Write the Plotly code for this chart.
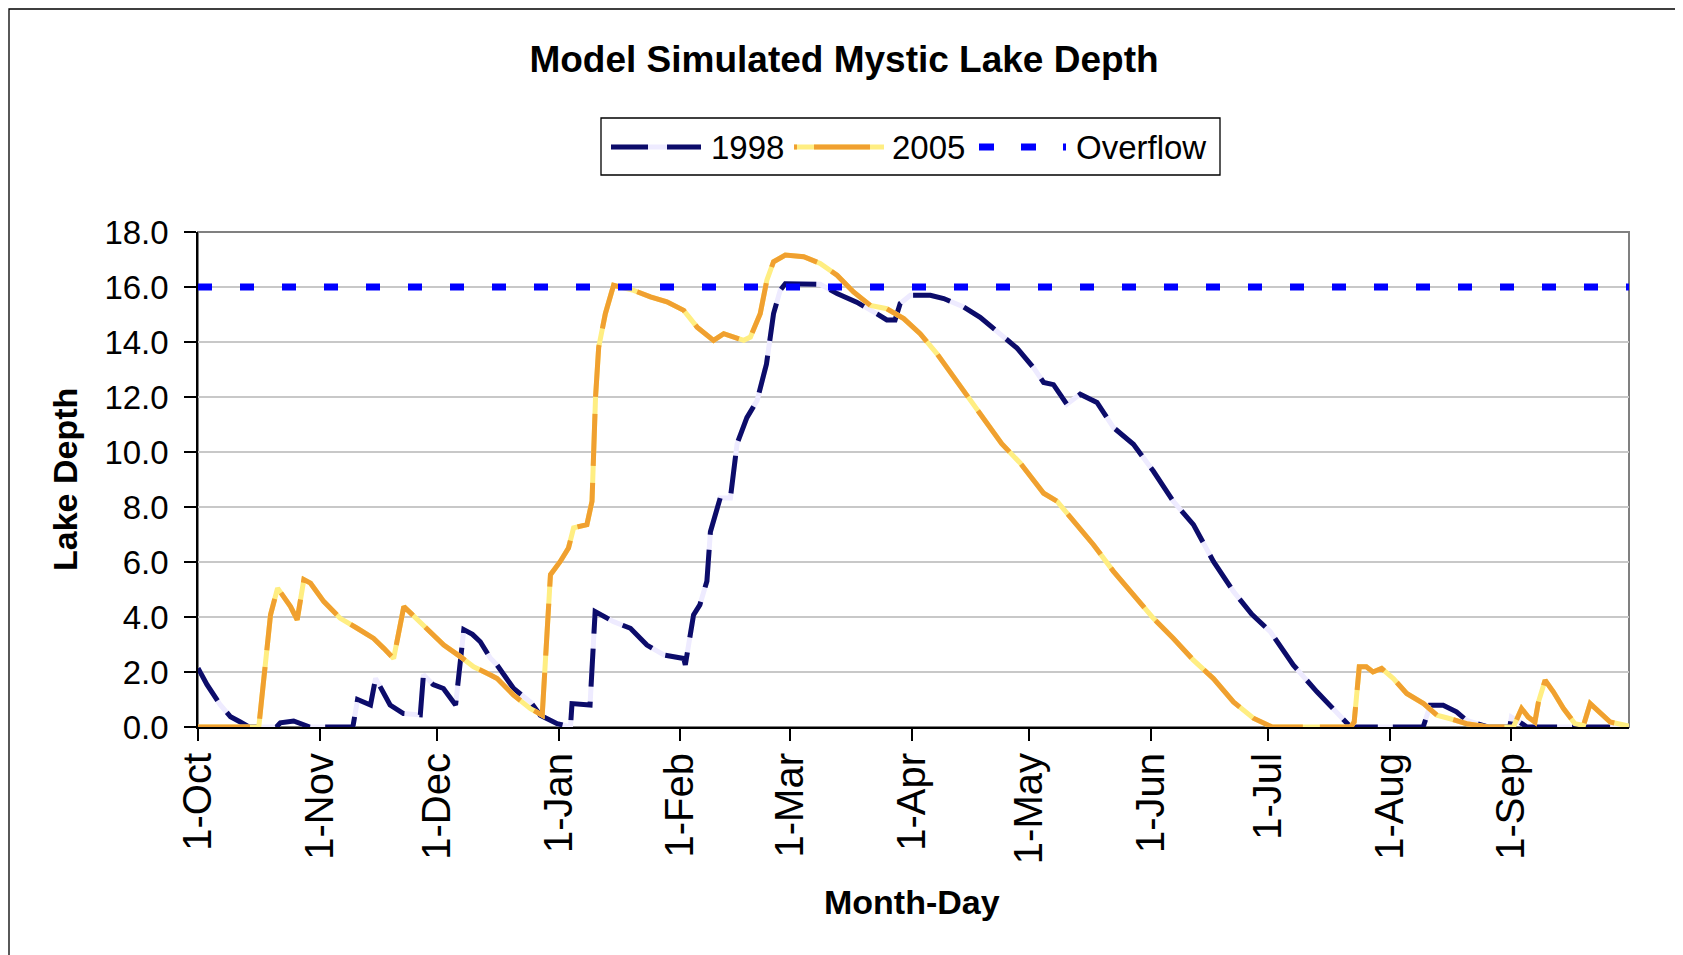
import plotly.graph_objects as go

# ---------------- data ----------------
month_start_days = [0, 31, 61, 92, 123, 151, 182, 212, 243, 273, 304, 335]
month_labels = ["1-Oct", "1-Nov", "1-Dec", "1-Jan", "1-Feb", "1-Mar",
                "1-Apr", "1-May", "1-Jun", "1-Jul", "1-Aug", "1-Sep"]
y_ticks = [0, 2, 4, 6, 8, 10, 12, 14, 16, 18]

# days since 1-Oct
days_1998 = [0, 2.3, 5.7, 8.3, 10.8, 13, 20, 21, 24.4, 27.6, 28.5, 39.5, 40.7, 44, 45.3,
             49, 52.4, 56.7, 57.5, 60, 62.6, 65.7, 67.8, 70, 72, 74.6, 76.3, 80.5, 84.8,
             87.3, 91.6, 95, 95.4, 100, 101.3, 106, 110.3, 114.5, 118.8, 123.9, 124.3,
             126.4, 128, 129.8, 130.7, 133.2, 135.8, 137.5, 140, 142.6, 145, 146.8, 148.5,
             149.8, 158.7, 163, 168, 173.2, 175.7, 177.8, 179.1, 181.7, 186.8, 190.2,
             195.3, 199.5, 203.8, 208.9, 213.1, 215.7, 218.2, 221.6, 225, 229.3, 233.5,
             238.6, 243.7, 248.8, 253.9, 259, 264.1, 268.8, 273.5, 279.4, 285.4, 290.5,
             293, 294, 312.5, 314.3, 317.6, 321, 323.6, 327.8, 329, 334.6, 335, 339, 365]
depth_1998 = [2.14, 1.54, 0.8, 0.37, 0.18, 0.0, 0.0, 0.15, 0.22, 0.05, 0.0, 0.0, 1.0, 0.8, 1.77,
              0.8, 0.49, 0.44, 1.9, 1.54, 1.4, 0.8, 3.54, 3.37, 3.1, 2.5, 2.25, 1.4, 0.91,
              0.43, 0.12, 0.0, 0.85, 0.8, 4.2, 3.83, 3.59, 2.98, 2.62, 2.49, 2.26,
              4.08, 4.44, 5.3, 7.1, 8.33, 8.33, 10.3, 11.25, 11.87, 13.2, 15.03, 15.88,
              16.12, 16.1, 15.76, 15.45, 15.02, 14.8, 14.8, 15.4, 15.7, 15.7, 15.58,
              15.27, 14.9, 14.4, 13.78, 13.07, 12.53, 12.45, 11.74, 12.1, 11.8, 10.89,
              10.28, 9.3, 8.2, 7.36, 6.02, 4.93, 4.1, 3.47, 2.25, 1.28, 0.55,
              0.18, 0.0, 0.0, 0.79, 0.79, 0.55, 0.24, 0.05, 0.0, 0.0, 0.36, 0.0, 0.0]

days_2005 = [0, 15.5, 18.5, 20.3, 23.6, 25.3, 27, 28.7, 32.1, 36.3, 40.6, 44.8, 47.4, 49.9,
             52.5, 57.6, 62.7, 66.9, 70.3, 74.6, 76.3, 80.5, 84.8, 87.8, 89, 89.9, 92.4,
             94.5, 95.8, 99.2, 100.5, 101.4, 102.2, 103.9, 106, 111.1, 115.4, 119.6, 123.9,
             127.3, 131.5, 134.1, 139.2, 140.9, 143.4, 145.1, 146.8, 149.8, 154.5, 158.7,
             163, 167.2, 171.5, 175.7, 180, 184.2, 188.5, 192.7, 197, 201.2, 205, 209.7,
             215.7, 219.1, 223.3, 228.4, 233.5, 238.6, 243.7, 248.8, 253.9, 259, 264.1,
             269.2, 272.6, 274, 294, 294.9, 296.2, 298, 299.7, 301.9, 304.9, 308.3, 312.6,
             316, 319.4, 323.6, 327.8, 329, 335.5, 336.3, 337.6, 339.3, 341, 341.9, 343.6,
             345.7, 348.3, 351.2, 353.4, 355.1, 357.6, 360.2, 365]
depth_2005 = [0.0, 0.0, 4.08, 5.05, 4.38, 3.9, 5.36, 5.23, 4.56, 3.95, 3.59, 3.22, 2.86, 2.49,
              4.38, 3.65, 2.98, 2.56, 2.19, 1.89, 1.76, 1.16, 0.67, 0.43, 3.47, 5.54, 6.02,
              6.51, 7.24, 7.36, 8.21, 11.99, 13.81, 15.03, 16.06, 15.88, 15.64, 15.46, 15.15,
              14.54, 14.06, 14.3, 14.06, 14.18, 15.03, 16.25, 16.92, 17.16, 17.1, 16.86,
              16.43, 15.82, 15.33, 15.21, 14.85, 14.3, 13.57, 12.72, 11.87, 11.01, 10.3, 9.6,
              8.5, 8.21, 7.5, 6.63, 5.66, 4.81, 3.95, 3.22, 2.43, 1.76, 0.91,
              0.32, 0.06, 0.0, 0.0, 0.18, 2.19, 2.19, 2.0, 2.13, 1.76, 1.22, 0.85,
              0.43, 0.30, 0.12, 0.03, 0.0, 0.0, 0.3, 0.67, 0.36, 0.18, 0.91, 1.7,
              1.28, 0.67, 0.12, 0.06, 0.85, 0.55, 0.18, 0.03]

overflow_days = [0, 365]
overflow_depth = [16.0, 16.0]

series_names = ["1998", "2005", "Overflow"]

# ---------------- styling ----------------
OFF = 8                                   # default page body margin
W, H = 1683 - OFF, 955 - OFF
# plot area in page pixels
L, R, T, B = 198, 1629, 232, 727
PW, PH = R - L, B - T

def px(xp):
    return (xp - L) / PW

def py(yp):
    return (B - yp) / PH

NAVY = "#0C0C6A"
LAV = "#EEEBFF"
ORANGE = "#F0A030"
YELLOW = "#FFEE82"
BLUE = "#0000FF"
FONT = "Liberation Sans, Arial, sans-serif"
LW = 5

fig = go.Figure()

fig.add_trace(go.Scatter(x=days_1998, y=depth_1998, mode="lines",
                         line=dict(color=LAV, width=LW), hoverinfo="skip",
                         showlegend=False, cliponaxis=False))
fig.add_trace(go.Scatter(x=days_1998, y=depth_1998, mode="lines", name=series_names[0],
                         line=dict(color=NAVY, width=LW, dash="38px,15px"),
                         showlegend=False, cliponaxis=False))
fig.add_trace(go.Scatter(x=days_2005, y=depth_2005, mode="lines",
                         line=dict(color=YELLOW, width=LW), hoverinfo="skip",
                         showlegend=False, cliponaxis=False))
fig.add_trace(go.Scatter(x=days_2005, y=depth_2005, mode="lines", name=series_names[1],
                         line=dict(color=ORANGE, width=LW, dash="52px,17px"),
                         showlegend=False, cliponaxis=False))
fig.add_trace(go.Scatter(x=overflow_days, y=overflow_depth, mode="lines", name=series_names[2],
                         line=dict(color=BLUE, width=7, dash="14px,28px"),
                         showlegend=False))

shapes = []
annotations = []

shapes.append(dict(type="rect", xref="paper", yref="paper",
                   x0=px(9), x1=px(1678), y0=py(965), y1=py(9),
                   line=dict(color="black", width=1.3), layer="below"))
shapes.append(dict(type="rect", xref="paper", yref="paper", x0=0, x1=1, y0=0, y1=1,
                   line=dict(color="#808080", width=2), layer="below"))

LEG_Y = py(147)
shapes.append(dict(type="rect", xref="paper", yref="paper",
                   x0=px(601), x1=px(1220), y0=py(175), y1=py(118),
                   line=dict(color="black", width=1.3), fillcolor="white"))
shapes.append(dict(type="line", xref="paper", yref="paper",
                   x0=px(611), x1=px(701), y0=LEG_Y, y1=LEG_Y,
                   line=dict(color=LAV, width=LW)))
shapes.append(dict(type="line", xref="paper", yref="paper",
                   x0=px(611), x1=px(701), y0=LEG_Y, y1=LEG_Y,
                   line=dict(color=NAVY, width=LW, dash="37px,19px")))
shapes.append(dict(type="line", xref="paper", yref="paper",
                   x0=px(794), x1=px(884), y0=LEG_Y, y1=LEG_Y,
                   line=dict(color=YELLOW, width=LW)))
shapes.append(dict(type="line", xref="paper", yref="paper",
                   x0=px(794), x1=px(884), y0=LEG_Y, y1=LEG_Y,
                   line=dict(color=ORANGE, width=LW, dash="3px,17px,56px,30px")))
shapes.append(dict(type="line", xref="paper", yref="paper",
                   x0=px(979), x1=px(1066), y0=LEG_Y, y1=LEG_Y,
                   line=dict(color=BLUE, width=7, dash="15px,27px")))
for name, xl in zip(series_names, [709, 890, 1074]):
    annotations.append(dict(text=name, xref="paper", yref="paper", x=px(xl), y=LEG_Y,
                            xanchor="left", yanchor="middle", showarrow=False,
                            font=dict(family=FONT, size=33, color="black")))

annotations.append(dict(text="Lake Depth", xref="paper", yref="paper", x=px(65), y=py(480),
                        textangle=-90, xanchor="center", yanchor="middle", showarrow=False,
                        font=dict(family=FONT, size=34, color="black", weight="bold")))
annotations.append(dict(text="Month-Day", xref="paper", yref="paper", x=px(912), y=py(902),
                        xanchor="center", yanchor="middle", showarrow=False,
                        font=dict(family=FONT, size=34, color="black", weight="bold")))

fig.update_layout(
    width=W, height=H, autosize=False,
    margin=dict(l=L - OFF, r=W - (R - OFF), t=T - OFF, b=H - (B - OFF), pad=0),
    paper_bgcolor="white", plot_bgcolor="white",
    title=dict(text="Model Simulated Mystic Lake Depth", x=(844 - OFF) / W, xref="container",
               xanchor="center", y=1 - (59 - OFF) / H, yref="container", yanchor="middle",
               font=dict(family=FONT, size=37, color="black", weight="bold")),
    showlegend=False,
    shapes=shapes,
    annotations=annotations,
    xaxis=dict(range=[0, 365], tickmode="array", tickvals=month_start_days,
               ticktext=month_labels, tickangle=-90, ticks="outside", ticklen=12,
               tickwidth=1.5, tickcolor="black", showgrid=False, zeroline=False,
               showline=True, linecolor="black", linewidth=2, ticklabelstandoff=-4,
               tickfont=dict(family=FONT, size=40, color="black")),
    yaxis=dict(range=[0, 18], tickmode="array", tickvals=y_ticks, tickformat=".1f",
               ticks="outside", ticklen=12, tickwidth=1.5, tickcolor="black",
               showgrid=True, gridcolor="#C8C8C8", gridwidth=1.5, zeroline=False,
               showline=True, linecolor="black", linewidth=1.5, ticklabelstandoff=9,
               tickfont=dict(family=FONT, size=33, color="black")),
)

fig.write_html("out.html")
